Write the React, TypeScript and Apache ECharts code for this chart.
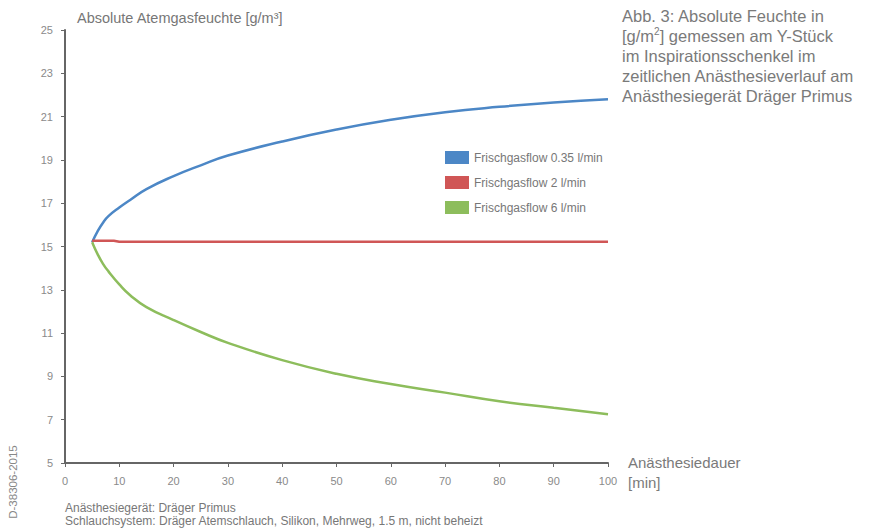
import React, { useEffect, useRef } from "react";
import * as echarts from "echarts";

const xValues = [5, 6, 7, 8, 10, 12, 15, 20, 25, 30, 40, 50, 60, 70, 80, 90, 100];
const blueValues = [15.2, 15.7, 16.1, 16.4, 16.8, 17.15, 17.65, 18.25, 18.75, 19.2, 19.85, 20.4, 20.85, 21.2, 21.45, 21.65, 21.8];
const greenValues = [15.2, 14.65, 14.2, 13.85, 13.25, 12.75, 12.2, 11.6, 11.05, 10.55, 9.75, 9.12, 8.65, 8.25, 7.85, 7.55, 7.25];
const redX = [5, 9, 10, 100];
const redValues = [15.27, 15.27, 15.22, 15.22];
const seriesNames = ["Frischgasflow 0.35 l/min", "Frischgasflow 2 l/min", "Frischgasflow 6 l/min"];
const colors = ["#4c87c6", "#d05656", "#8dbd5c"];

export default function App() {
  const ref = useRef<HTMLDivElement>(null);
  useEffect(() => {
    const chart = echarts.init(ref.current!, null, { renderer: "svg" });
    const font = "Liberation Sans, Arial, sans-serif";
    const gray = "#7a7a7a";
    chart.setOption({
      animation: false,
      textStyle: { fontFamily: font },
      grid: { left: 65, right: 276, top: 30, bottom: 65, containLabel: false },
      legend: {
        orient: "vertical",
        left: 440,
        top: 146,
        itemWidth: 24,
        itemHeight: 13,
        itemGap: 12,
        icon: "rect",
        textStyle: { fontSize: 12, color: "#777", fontFamily: font },
        data: seriesNames,
      },
      xAxis: {
        type: "value",
        min: 0,
        max: 100,
        interval: 10,
        axisLine: { lineStyle: { color: "#666", width: 2 } },
        axisTick: { show: true, length: 4, lineStyle: { color: "#666" } },
        axisLabel: { color: "#8a8a8a", fontSize: 11, margin: 12 },
        splitLine: { show: false },
      },
      yAxis: {
        type: "value",
        min: 5,
        max: 25,
        interval: 2,
        axisLine: { show: true, lineStyle: { color: "#666", width: 2 } },
        axisTick: { show: true, length: 4, lineStyle: { color: "#666" } },
        axisLabel: { color: "#8a8a8a", fontSize: 11, margin: 12 },
        splitLine: { show: false },
      },
      series: [
        {
          name: seriesNames[0],
          type: "line",
          smooth: true,
          showSymbol: false,
          color: colors[0],
          lineStyle: { width: 2.5 },
          data: xValues.map((x, i) => [x, blueValues[i]]),
        },
        {
          name: seriesNames[1],
          type: "line",
          smooth: false,
          showSymbol: false,
          color: colors[1],
          lineStyle: { width: 2.5 },
          data: redX.map((x, i) => [x, redValues[i]]),
        },
        {
          name: seriesNames[2],
          type: "line",
          smooth: true,
          showSymbol: false,
          color: colors[2],
          lineStyle: { width: 2.5 },
          data: xValues.map((x, i) => [x, greenValues[i]]),
        },
      ],
      graphic: [
        {
          type: "text",
          left: 77,
          top: 10,
          style: { text: "Absolute Atemgasfeuchte [g/m³]", fontSize: 14.5, fill: "#777", fontFamily: font },
        },
        {
          type: "text",
          left: 622,
          top: 6,
          style: {
            text: "Abb. 3: Absolute Feuchte in\n[g/m{sup|2}] gemessen am Y-Stück\nim Inspirationsschenkel im\nzeitlichen Anästhesieverlauf am\nAnästhesiegerät Dräger Primus",
            fontSize: 16.5,
            lineHeight: 20,
            fill: "#7a7a7a",
            fontFamily: font,
            rich: {
              sup: { fontSize: 10, verticalAlign: "top", fill: "#7a7a7a", lineHeight: 12, padding: [0, 0, 6, 0] },
            },
          },
        },
        {
          type: "text",
          left: 628,
          top: 452,
          style: { text: "Anästhesiedauer\n[min]", fontSize: 15, lineHeight: 20, fill: gray, fontFamily: font },
        },
        {
          type: "text",
          left: 65,
          top: 501,
          style: {
            text: "Anästhesiegerät: Dräger Primus\nSchlauchsystem: Dräger Atemschlauch, Silikon, Mehrweg, 1.5 m, nicht beheizt",
            fontSize: 12,
            lineHeight: 13.5,
            fill: "#777",
            fontFamily: font,
          },
        },
        {
          type: "text",
          x: 13,
          y: 482,
          rotation: Math.PI / 2,
          style: {
            text: "D-38306-2015",
            fontSize: 11.5,
            fill: "#888",
            fontFamily: font,
            align: "center",
            verticalAlign: "middle",
          },
        },
      ],
    });
    return () => chart.dispose();
  }, []);
  return <div ref={ref} style={{ width: 884, height: 528, position: "absolute", left: 0, top: 0 }} />;
}
